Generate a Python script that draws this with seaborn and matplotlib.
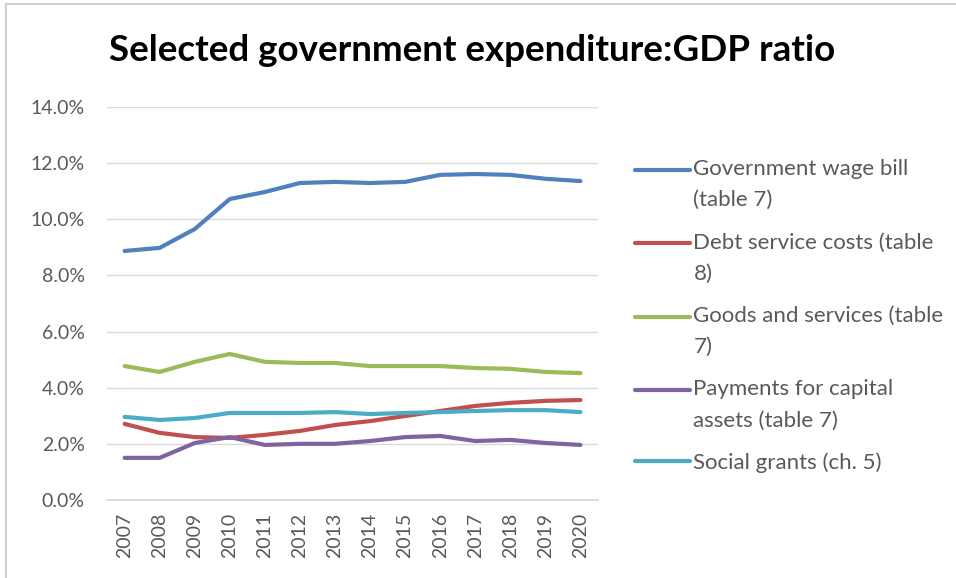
import matplotlib
matplotlib.use("Agg")
import matplotlib.pyplot as plt
import seaborn as sns
import pandas as pd
from matplotlib.ticker import FuncFormatter
from matplotlib.lines import Line2D
from matplotlib.legend_handler import HandlerLine2D

years = list(range(2007, 2021))
wage_bill = [8.87, 8.98, 9.65, 10.72, 10.97, 11.29, 11.33, 11.29, 11.33, 11.58, 11.61, 11.58, 11.44, 11.36]
debt_service = [2.71, 2.39, 2.24, 2.21, 2.32, 2.46, 2.67, 2.81, 2.99, 3.17, 3.35, 3.46, 3.53, 3.56]
goods_services = [4.77, 4.56, 4.92, 5.20, 4.92, 4.88, 4.88, 4.77, 4.77, 4.77, 4.70, 4.67, 4.56, 4.52]
capital_assets = [1.50, 1.50, 2.03, 2.24, 1.96, 2.00, 2.00, 2.10, 2.24, 2.28, 2.10, 2.14, 2.03, 1.96]
social_grants = [2.96, 2.85, 2.92, 3.10, 3.10, 3.10, 3.13, 3.06, 3.10, 3.13, 3.17, 3.20, 3.20, 3.13]

series_names = ["Government wage bill\n(table 7)", "Debt service costs (table\n8)",
                "Goods and services (table\n7)", "Payments for capital\nassets (table 7)",
                "Social grants (ch. 5)"]
series_values = [wage_bill, debt_service, goods_services, capital_assets, social_grants]
colors = ["#4F81BD", "#C0504D", "#9BBB59", "#8064A2", "#4BACC6"]
title = "Selected government expenditure:GDP ratio"
yticks = [0, 2, 4, 6, 8, 10, 12, 14]

rows = []
for name, vals in zip(series_names, series_values):
    for y, v in zip(years, vals):
        rows.append({"Year": y, "Value": v, "Series": name})
df = pd.DataFrame(rows)

sns.set_theme(style="white")
plt.rcParams["font.family"] = ["Lato", "DejaVu Sans"]

fig = plt.figure(figsize=(9.56, 5.78), dpi=100)
ax = fig.add_axes([0.112, 0.135, 0.5135, 0.68])

sns.lineplot(data=df, x="Year", y="Value", hue="Series", palette=colors,
             linewidth=3, ax=ax, legend=False)

ax.set_xlim(2006.5, 2020.5)
ax.set_ylim(0, 14)
ax.set_yticks(yticks)
ax.yaxis.set_major_formatter(FuncFormatter(lambda v, p: f"{v:.1f}%"))
ax.set_xticks(years)
ax.set_xticklabels([str(y) for y in years], rotation=90)
ax.tick_params(axis="both", length=0, labelsize=14, labelcolor="#595959")
ax.tick_params(axis="y", pad=16)
ax.tick_params(axis="x", pad=9)
ax.grid(axis="y", color="#D9D9D9", linewidth=1)
ax.set_axisbelow(True)
for s in ["top", "right", "left"]:
    ax.spines[s].set_visible(False)
ax.spines["bottom"].set_color("#D9D9D9")
ax.set_xlabel("")
ax.set_ylabel("")


class OffsetHandler(HandlerLine2D):
    def __init__(self, dy, **kw):
        super().__init__(**kw)
        self.dy = dy

    def create_artists(self, legend, orig_handle, xdescent, ydescent, width, height,
                       fontsize, trans):
        arts = super().create_artists(legend, orig_handle, xdescent, ydescent, width,
                                      height, fontsize, trans)
        for a in arts:
            a.set_ydata([y + self.dy for y in a.get_ydata()])
        return arts


leg_fs = 16
leg_ls = 1.7
handles = [Line2D([0], [0], color=c, linewidth=3) for c in colors]
handler_map = {h: OffsetHandler(10.8 * name.count("\n"))
               for h, name in zip(handles, series_names)}
leg = fig.legend(handles, series_names, loc="upper left", bbox_to_anchor=(0.664, 0.725),
                 frameon=False, fontsize=leg_fs, handlelength=2.5, handletextpad=0.14,
                 labelspacing=1.0, labelcolor="#595959", borderpad=0, borderaxespad=0,
                 handler_map=handler_map)
for t in leg.get_texts():
    t.set_linespacing(leg_ls)

fig.text(0.494, 0.913, title, ha="center", va="center", fontsize=26.5, fontweight="bold",
         color="black")

# chart border (top and left edges)
fig.add_artist(Line2D([0.006, 1.0], [0.993, 0.993], color="#D0D0D0", linewidth=1.5,
                      transform=fig.transFigure))
fig.add_artist(Line2D([0.006, 0.006], [0.0, 0.993], color="#D0D0D0", linewidth=1.5,
                      transform=fig.transFigure))

fig.savefig("out.png", dpi=100, facecolor="white")
